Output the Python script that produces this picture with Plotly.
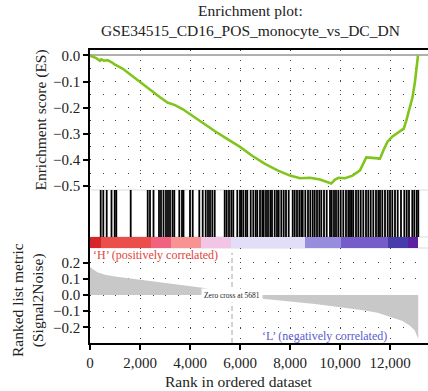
import plotly.graph_objects as go

# Running enrichment score along the ranked gene list
es_rank = [0, 250, 400, 450, 550, 700, 850, 1000, 1300, 1700, 2000, 2400, 2800, 3100,
           3400, 3700, 4000, 4500, 5000, 5500, 6000, 6500, 7000, 7500, 8000, 8400, 8800,
           9200, 9500, 9650, 9800, 9950, 10200, 10500, 10800, 10950, 11050, 11300, 11600,
           11750, 11900, 12100, 12400, 12550, 12650, 12800, 12900, 13000, 13060, 13120]
es_score = [0.0, -0.01, -0.02, -0.015, -0.02, -0.018, -0.025, -0.035, -0.05, -0.08, -0.1,
            -0.13, -0.16, -0.18, -0.19, -0.205, -0.225, -0.26, -0.29, -0.32, -0.35, -0.385,
            -0.415, -0.44, -0.46, -0.47, -0.468, -0.475, -0.485, -0.49, -0.475, -0.468,
            -0.47, -0.46, -0.44, -0.41, -0.39, -0.392, -0.395, -0.36, -0.33, -0.31, -0.29,
            -0.28, -0.25, -0.19, -0.16, -0.10, -0.05, 0.0]

# Positions of gene-set members in the ranked list
hit_ranks = [428, 532, 668, 860, 988, 1052, 1628, 2308, 2400, 2540, 2760, 2840, 2940, 3040,
             3120, 3200, 3300, 3372, 3572, 3680, 3740, 4000, 4108, 4372, 4508, 4628, 4720,
             4800, 4892, 4988,
             5388, 5468, 5560, 5652, 5732, 5892, 6000, 6052, 6132, 6228, 6292, 6428, 6532,
             6628, 6692, 6800, 6892, 6948, 7040, 7120, 7212, 7280, 7388, 7480, 7548, 7652,
             7748, 7840, 7948, 8108, 8188, 8280, 8372, 8452, 8508, 8612, 8720, 8812, 8908,
             8988, 9080, 9172, 9252, 9360, 9468, 9600, 9668, 9760, 9840, 9932, 10028, 10132,
             10240, 10332, 10400, 10468, 10532, 10640, 10732, 10828, 10932, 11040, 11132,
             11228, 11332, 11440, 11532, 11600, 11692, 11800, 11908, 12000, 12092, 12200,
             12308, 12440, 12572, 12668, 12760, 12892, 12972, 13068, 13132]

# Ranked list metric (Signal2Noise)
metric_rank = [0, 100, 300, 600, 1000, 2000, 3000, 4000, 4500, 5000, 5681, 6500, 7000, 8000,
               9000, 10000, 11000, 11500, 12000, 12500, 12800, 13000, 13100, 13130]
metric_value = [0.175, 0.16, 0.14, 0.125, 0.115, 0.095, 0.075, 0.055, 0.045, 0.03, 0.0,
                -0.015, -0.025, -0.04, -0.055, -0.075, -0.095, -0.11, -0.135, -0.16, -0.19,
                -0.22, -0.26, -0.27]
zero_cross = 5681

# Colour bands of the ranked-list heat strip
band_start = [0, 440, 2440, 3240, 4440, 5640, 8600, 10040, 11920, 12720]
band_end = [440, 2440, 3240, 4440, 5640, 8600, 10040, 11920, 12720, 13130]
band_color = ["rgb(215,38,42)", "rgb(236,78,76)", "rgb(241,98,128)", "rgb(249,146,146)",
              "rgb(242,196,230)", "rgb(226,222,248)", "rgb(152,140,222)", "rgb(118,92,200)",
              "rgb(70,60,172)", "rgb(92,32,162)"]

x_ticks = [0, 2000, 4000, 6000, 8000, 10000, 12000]
es_ticks = [-0.5, -0.4, -0.3, -0.2, -0.1, 0.0]
metric_ticks = [-0.2, -0.1, 0.0, 0.1, 0.2]

FONT = "Liberation Serif"
X_RANGE = [0, 13520]

fig = go.Figure()

fig.add_trace(go.Scatter(x=es_rank, y=es_score, mode="lines", xaxis="x", yaxis="y",
                         line=dict(color="#80c41c", width=2.6), hoverinfo="skip"))

hx, hy = [], []
for r in hit_ranks:
    hx += [r, r, None]
    hy += [0, 1, None]
fig.add_trace(go.Scatter(x=hx, y=hy, mode="lines", xaxis="x2", yaxis="y2",
                         line=dict(color="black", width=1.8), hoverinfo="skip"))

fig.add_trace(go.Bar(x=[(a + b) / 2 for a, b in zip(band_start, band_end)],
                     width=[b - a for a, b in zip(band_start, band_end)],
                     y=[1] * len(band_start), xaxis="x3", yaxis="y3",
                     marker=dict(color=band_color, line=dict(width=0)), hoverinfo="skip"))

fig.add_trace(go.Scatter(x=metric_rank, y=metric_value, mode="lines", fill="tozeroy",
                         xaxis="x4", yaxis="y4", line=dict(width=0, color="#c8c8c8"),
                         fillcolor="#c8c8c8", hoverinfo="skip"))

dom_es = [0.5222, 1.0]
dom_hit = [0.3618, 0.5222]
dom_bar = [0.3242, 0.3618]
dom_met = [0.0, 0.3242]

dot_h = "1px,11.5px"
dot_v = "1px,9px"
tickfont = dict(family=FONT, size=15, color="#222")

fig.update_layout(
    width=428, height=391,
    margin=dict(l=90, r=0, t=50, b=48),
    paper_bgcolor="white", plot_bgcolor="white",
    showlegend=False, bargap=0,
    font=dict(family=FONT, color="#222"),
    xaxis=dict(anchor="y", range=X_RANGE, side="top", showline=True, linecolor="black",
               linewidth=1.5, ticks="", showticklabels=False, showgrid=True, dtick=2000,
               tick0=0, gridcolor="#444", griddash=dot_v, gridwidth=1, zeroline=False),
    xaxis2=dict(anchor="y2", matches="x", range=X_RANGE, visible=False),
    xaxis3=dict(anchor="y3", matches="x", range=X_RANGE, visible=False),
    xaxis4=dict(anchor="y4", matches="x", range=X_RANGE, showline=True, linecolor="black",
                linewidth=1.5, ticks="outside", ticklen=5, tickwidth=1.5, tickcolor="black",
                tickvals=x_ticks, tickformat=",d", tickfont=tickfont, showgrid=True,
                gridcolor="#444", griddash=dot_v, gridwidth=1, zeroline=False),
    yaxis=dict(domain=dom_es, anchor="x", range=[-0.515, 0.021], showline=True,
               linecolor="black", linewidth=1.5, ticks="outside", ticklen=5, tickwidth=1.5,
               tickcolor="black", tickvals=es_ticks, tickformat=".1f", tickfont=tickfont,
               showgrid=True, gridcolor="#444", griddash=dot_h, gridwidth=1,
               minor=dict(dtick=0.05, tick0=0, showgrid=True, gridcolor="#444",
                          griddash=dot_h, gridwidth=1, ticks=""),
               zeroline=True, zerolinecolor="#b0b0b0", zerolinewidth=2),
    yaxis2=dict(domain=dom_hit, anchor="x2", range=[0, 1], showline=True, linecolor="black",
                linewidth=1.5, ticks="", showticklabels=False, showgrid=False,
                zeroline=False),
    yaxis3=dict(domain=dom_bar, anchor="x3", range=[0, 1], showline=True, linecolor="black",
                linewidth=1.5, ticks="", showticklabels=False, showgrid=False,
                zeroline=False),
    yaxis4=dict(domain=dom_met, anchor="x4", range=[-0.296, 0.29], showline=True,
                linecolor="black", linewidth=1.5, ticks="outside", ticklen=5, tickwidth=1.5,
                tickcolor="black", tickvals=metric_ticks, tickformat=".1f",
                tickfont=tickfont, showgrid=True, gridcolor="#444", griddash=dot_h,
                gridwidth=1, zeroline=False),
)

# Light separators around the hit strip and the colour strip
for yy in [dom_es[0], dom_hit[0], dom_bar[0]]:
    fig.add_shape(type="line", xref="paper", yref="paper", x0=0.003, x1=1, y0=yy, y1=yy,
                  line=dict(color="#dcdcdc", width=1), layer="below")

# Zero-crossing marker
fig.add_shape(type="line", xref="x4", yref="y4 domain", x0=zero_cross, x1=zero_cross,
              y0=0, y1=0.95, line=dict(color="#c4c4c4", width=1.5, dash="5px,3px"))

fig.add_annotation(xref="paper", yref="paper", x=0.476, y=1.099, showarrow=False,
                   text="Enrichment plot:<br>GSE34515_CD16_POS_monocyte_vs_DC_DN",
                   font=dict(family=FONT, size=15.5, color="#222"),
                   xanchor="center", yanchor="middle")
fig.add_annotation(xref="paper", yref="paper", x=-0.1435, y=0.761, showarrow=False,
                   text="Enrichment score (ES)", textangle=-90,
                   font=dict(family=FONT, size=15.5, color="#222"),
                   xanchor="center", yanchor="middle")
fig.add_annotation(xref="paper", yref="paper", x=-0.183, y=0.147, showarrow=False,
                   text="Ranked list metric<br>(Signal2Noise)", textangle=-90,
                   font=dict(family=FONT, size=15.5, color="#222"),
                   xanchor="center", yanchor="middle")
fig.add_annotation(xref="paper", yref="paper", x=0.438, y=-0.1297, showarrow=False,
                   text="Rank in ordered dataset",
                   font=dict(family=FONT, size=15.5, color="#222"),
                   xanchor="center", yanchor="middle")
fig.add_annotation(xref="x4", yref="y4", x=40, y=0.247, showarrow=False,
                   text="‘H’ (positively correlated)",
                   font=dict(family=FONT, size=12, color="#e0453a"),
                   xanchor="left", yanchor="middle")
fig.add_annotation(xref="x4", yref="y4", x=6800, y=-0.253, showarrow=False,
                   text="‘L’ (negatively correlated)",
                   font=dict(family=FONT, size=12, color="#5b5bd0"),
                   xanchor="left", yanchor="middle")
fig.add_annotation(xref="x4", yref="y4", x=zero_cross, y=0.0, showarrow=False,
                   text=f"Zero cross at {zero_cross}",
                   font=dict(family=FONT, size=7.5, color="#222"),
                   bgcolor="white", borderpad=2, xanchor="center", yanchor="middle")

fig.write_html("out.html")
